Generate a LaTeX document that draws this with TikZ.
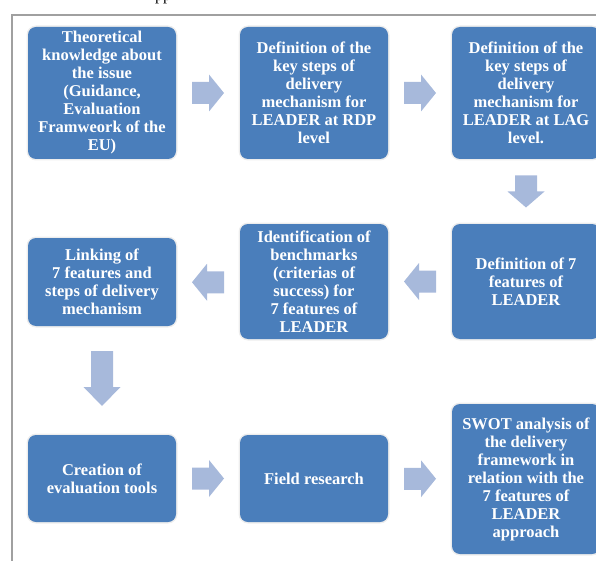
\documentclass[tikz,border=0pt]{standalone}
\usepackage{fontspec}
\setmainfont{Liberation Serif}
\usetikzlibrary{calc}
\definecolor{boxblue}{RGB}{74,126,187}
\definecolor{arrowblue}{RGB}{167,185,219}
\definecolor{framegray}{RGB}{160,160,160}
\begin{document}
\begin{tikzpicture}[x=1pt,y=-1pt,
  stepbox/.style={rectangle, rounded corners=8pt, fill=boxblue, text=white,
    font=\bfseries\fontsize{16.5}{18}\selectfont, align=center, inner sep=0pt,
    minimum width=148pt, preaction={draw=black!7, line width=3pt}},
  arrowright/.pic={\fill[arrowblue] (-16,-11) -- (1,-11) -- (1,-18.5) -- (16,0)
      -- (1,18.5) -- (1,11) -- (-16,11) -- cycle;},
  arrowdownshort/.pic={\fill[arrowblue] (-11,-16) -- (-11,0) -- (-18.5,0) -- (0,16)
      -- (18.5,0) -- (11,0) -- (11,-16) -- cycle;},
  arrowdownlong/.pic={\fill[arrowblue] (-11,-27.5) -- (-11,8.5) -- (-18.5,8.5) -- (0,27.5)
      -- (18.5,8.5) -- (11,8.5) -- (11,-27.5) -- cycle;}]
\useasboundingbox (0,0) rectangle (596,561);
% fragment of text cut at the top
\node[anchor=base west, inner sep=0pt, font=\fontsize{16}{18}\selectfont] (frag) at (155,1) {pp};
% frame
\draw[framegray, line width=1.2pt] (12,562) -- (12,15) -- (597,15);
% row 1
\node[stepbox, minimum height=132pt] (b1) at (102,93)
  {Theoretical\\knowledge about\\the issue\\(Guidance,\\Evaluation\\Framweork of the\\EU)};
\node[stepbox, minimum height=132pt] (b2) at (314,93)
  {Definition of the\\key steps of\\delivery\\mechanism for\\LEADER at RDP\\level};
\node[stepbox, minimum height=132pt] (b3) at (526,93)
  {Definition of the\\key steps of\\delivery\\mechanism for\\LEADER at LAG\\level.};
% row 2
\node[stepbox, minimum height=88pt] (b4) at (102,282)
  {Linking of\\7 features and\\steps of delivery\\mechanism};
\node[stepbox, minimum height=115pt] (b5) at (314,281.5)
  {Identification of\\benchmarks\\(criterias of\\success) for\\7 features of\\LEADER};
\node[stepbox, minimum height=115pt] (b6) at (526,281.5)
  {Definition of 7\\features of\\LEADER};
% row 3
\node[stepbox, minimum height=87pt] (b7) at (102,478.5)
  {Creation of\\evaluation tools};
\node[stepbox, minimum height=87pt] (b8) at (314,478.5)
  {Field research};
\node[stepbox, minimum height=150pt] (b9) at (526,479)
  {SWOT analysis of\\the delivery\\framework in\\relation with the\\7 features of\\LEADER\\approach};
% arrows
\pic at ($(b1.east)!0.5!(b2.west)$) {arrowright};
\pic at ($(b2.east)!0.5!(b3.west)$) {arrowright};
\pic at ($(b3.south)!0.5!(b6.north)$) {arrowdownshort};
\pic[rotate=180] at ($(b6.west)!0.5!(b5.east)$) {arrowright};
\pic[rotate=180] at ($(b5.west)!0.5!(b4.east)+(0,0.5)$) {arrowright};
\pic at ($(b4.south)!0.5!(b7.north)-(0,2)$) {arrowdownlong};
\pic at ($(b7.east)!0.5!(b8.west)$) {arrowright};
\pic at ($(b8.east)!0.5!(b9.west)$) {arrowright};
\end{tikzpicture}
\end{document}
